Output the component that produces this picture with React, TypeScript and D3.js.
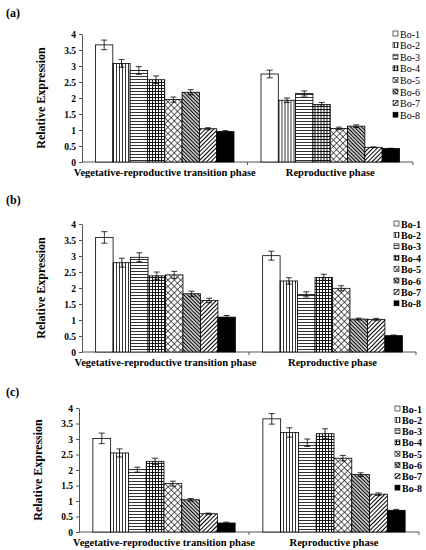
import React, { useEffect, useRef } from 'react';
import * as d3 from 'd3';

const phases = ['Vegetative-reproductive transition phase', 'Reproductive phase'];
const genes = ['Bo-1', 'Bo-2', 'Bo-3', 'Bo-4', 'Bo-5', 'Bo-6', 'Bo-7', 'Bo-8'];
const yTicks = [0, 0.5, 1, 1.5, 2, 2.5, 3, 3.5, 4];

// (a)
const aVeg = [3.66, 3.08, 2.86, 2.57, 1.95, 2.18, 1.04, 0.95];
const aVegErr = [0.15, 0.12, 0.12, 0.12, 0.08, 0.08, 0.03, 0.03];
const aRep = [2.75, 1.93, 2.14, 1.8, 1.05, 1.12, 0.46, 0.42];
const aRepErr = [0.12, 0.07, 0.08, 0.06, 0.04, 0.04, 0.01, 0.01];

// (b)
const bVeg = [3.58, 2.79, 2.96, 2.38, 2.41, 1.82, 1.61, 1.09];
const bVegErr = [0.18, 0.14, 0.14, 0.12, 0.11, 0.08, 0.07, 0.05];
const bRep = [3.01, 2.22, 1.8, 2.33, 1.99, 1.03, 1.02, 0.51];
const bRepErr = [0.14, 0.1, 0.08, 0.1, 0.08, 0.03, 0.03, 0.02];

// (c)
const cVeg = [3.02, 2.55, 2.01, 2.28, 1.56, 1.04, 0.59, 0.29];
const cVegErr = [0.17, 0.13, 0.08, 0.1, 0.08, 0.04, 0.02, 0.03];
const cRep = [3.65, 3.21, 2.88, 3.17, 2.38, 1.85, 1.22, 0.7];
const cRepErr = [0.17, 0.15, 0.12, 0.16, 0.09, 0.06, 0.04, 0.03];

const panelData = [
  { label: '(a)', values: [aVeg, aRep], errors: [aVegErr, aRepErr], boldLegend: false },
  { label: '(b)', values: [bVeg, bRep], errors: [bVegErr, bRepErr], boldLegend: true },
  { label: '(c)', values: [cVeg, cRep], errors: [cVegErr, cRepErr], boldLegend: true },
];

// pixel layout of each panel
const layout = [
  { labelY: 17, left: 82, right: 413, bottom: 162, top: 34, legendY: 34, legendStep: 11.6, legendX: 393 },
  { labelY: 204, left: 82, right: 416, bottom: 352, top: 224, legendY: 224, legendStep: 11.4, legendX: 394 },
  { labelY: 396, left: 79, right: 419, bottom: 532, top: 408, legendY: 409, legendStep: 11.3, legendX: 395 },
];

const fills = ['#fff', 'url(#p-vert)', 'url(#p-horiz)', 'url(#p-grid)', 'url(#p-diamond)', 'url(#p-back)', 'url(#p-fwd)', '#000'];

const serif = '"Liberation Serif", "Times New Roman", serif';

const App: React.FC = () => {
  const ref = useRef<SVGSVGElement | null>(null);

  useEffect(() => {
    const svg = d3.select(ref.current);
    svg.selectAll('*').remove();

    const defs = svg.append('defs');
    const linePattern = (id: string, size: number, sw: number, rotate: number, horizontal = false) => {
      const p = defs
        .append('pattern')
        .attr('id', id)
        .attr('patternUnits', 'userSpaceOnUse')
        .attr('width', size)
        .attr('height', size);
      if (rotate) p.attr('patternTransform', `rotate(${rotate})`);
      p.append('rect').attr('width', size).attr('height', size).attr('fill', '#fff');
      if (horizontal) {
        p.append('line').attr('x1', 0).attr('x2', size).attr('y1', size / 2).attr('y2', size / 2)
          .attr('stroke', '#000').attr('stroke-width', sw);
      } else {
        p.append('line').attr('x1', size / 2).attr('x2', size / 2).attr('y1', 0).attr('y2', size)
          .attr('stroke', '#000').attr('stroke-width', sw);
      }
      return p;
    };
    linePattern('p-vert', 3, 0.8, 0);
    linePattern('p-horiz', 3, 0.8, 0, true);
    const grid = linePattern('p-grid', 3, 0.9, 0);
    grid.append('line').attr('x1', 0).attr('x2', 3).attr('y1', 1.5).attr('y2', 1.5)
      .attr('stroke', '#000').attr('stroke-width', 0.9);
    const diamond = linePattern('p-diamond', 4.5, 0.6, 45);
    diamond.append('line').attr('x1', 0).attr('x2', 4.5).attr('y1', 2.25).attr('y2', 2.25)
      .attr('stroke', '#000').attr('stroke-width', 0.6);
    linePattern('p-back', 2.6, 1.3, -45);
    linePattern('p-fwd', 3, 1, 45);

    panelData.forEach((panel, i) => {
      const L = layout[i];
      const g = svg.append('g');

      const y = d3.scaleLinear().domain([0, 4]).range([L.bottom, L.top]);
      const x0 = d3.scaleBand().domain(phases).range([L.left, L.right]).paddingInner(0).paddingOuter(0);
      const x1 = d3.scaleBand().domain(genes).range([0, x0.bandwidth()]).paddingInner(0).paddingOuter(0.78);

      g.append('text')
        .attr('x', 6)
        .attr('y', L.labelY)
        .attr('font-family', serif)
        .attr('font-weight', 'bold')
        .attr('font-size', 12)
        .text(panel.label);

      // y axis
      const yAxis = g
        .append('g')
        .attr('transform', `translate(${L.left},0)`)
        .call(d3.axisLeft(y).tickValues(yTicks).tickSize(3).tickSizeOuter(0).tickFormat(d3.format('')));
      yAxis.select('.domain').attr('stroke', '#555');
      yAxis.selectAll('.tick line').attr('stroke', '#555');
      yAxis
        .selectAll('.tick text')
        .attr('font-family', serif)
        .attr('font-weight', 'bold')
        .attr('font-size', 9.5)
        .attr('fill', '#000');

      // x baseline with boundary ticks
      g.append('line')
        .attr('x1', L.left).attr('x2', L.right)
        .attr('y1', L.bottom).attr('y2', L.bottom)
        .attr('stroke', '#555');
      const bounds = phases.map(p => x0(p) as number).concat([L.right]);
      g.selectAll('line.xt')
        .data(bounds.slice(1))
        .join('line')
        .attr('class', 'xt')
        .attr('x1', d => d).attr('x2', d => d)
        .attr('y1', L.bottom).attr('y2', L.bottom + 3)
        .attr('stroke', '#555');

      g.selectAll('text.cat')
        .data(phases)
        .join('text')
        .attr('class', 'cat')
        .attr('x', d => (x0(d) as number) + x0.bandwidth() / 2)
        .attr('y', L.bottom + 14)
        .attr('text-anchor', 'middle')
        .attr('font-family', serif)
        .attr('font-weight', 'bold')
        .attr('font-size', 10.5)
        .text(d => d);

      g.append('text')
        .attr('transform', `translate(${L.left - 37},${(L.top + L.bottom) / 2}) rotate(-90)`)
        .attr('text-anchor', 'middle')
        .attr('font-family', serif)
        .attr('font-weight', 'bold')
        .attr('font-size', 12)
        .text('Relative Expression');

      phases.forEach((phase, pi) => {
        const grp = g.append('g').attr('transform', `translate(${x0(phase)},0)`);
        const rows = genes.map((gene, k) => ({
          gene,
          k,
          v: panel.values[pi][k],
          e: panel.errors[pi][k],
        }));
        grp
          .selectAll('rect')
          .data(rows)
          .join('rect')
          .attr('x', d => x1(d.gene) as number)
          .attr('y', d => y(d.v))
          .attr('width', x1.bandwidth())
          .attr('height', d => y(0) - y(d.v))
          .attr('fill', d => fills[d.k])
          .attr('stroke', '#000')
          .attr('stroke-width', 0.8);

        const err = grp.selectAll('g.err').data(rows).join('g').attr('class', 'err');
        const cx = (d: { gene: string }) => (x1(d.gene) as number) + x1.bandwidth() / 2;
        err.append('line')
          .attr('x1', cx).attr('x2', cx)
          .attr('y1', d => y(d.v - d.e)).attr('y2', d => y(d.v + d.e))
          .attr('stroke', '#000').attr('stroke-width', 0.8);
        [1, -1].forEach(s => {
          err.append('line')
            .attr('x1', d => cx(d) - 3).attr('x2', d => cx(d) + 3)
            .attr('y1', d => y(d.v + s * d.e)).attr('y2', d => y(d.v + s * d.e))
            .attr('stroke', '#000').attr('stroke-width', 0.8);
        });
      });

      // legend
      const leg = g
        .selectAll('g.leg')
        .data(genes)
        .join('g')
        .attr('class', 'leg')
        .attr('transform', (_, k) => `translate(${L.legendX},${L.legendY + k * L.legendStep})`);
      leg.append('rect')
        .attr('x', 0).attr('y', -3)
        .attr('width', 5).attr('height', 5)
        .attr('fill', (_, k) => fills[k])
        .attr('stroke', '#000').attr('stroke-width', 0.6);
      leg.append('text')
        .attr('x', 7)
        .attr('y', 3.5)
        .attr('font-family', serif)
        .attr('font-weight', panel.boldLegend ? 'bold' : 'normal')
        .attr('font-size', 10)
        .text(d => d);
    });
  }, []);

  return (
    <svg
      ref={ref}
      width={426}
      height={550}
      viewBox="0 0 426 550"
      style={{ position: 'absolute', left: 0, top: 0, background: '#fff' }}
    ></svg>
  );
};

export default App;
